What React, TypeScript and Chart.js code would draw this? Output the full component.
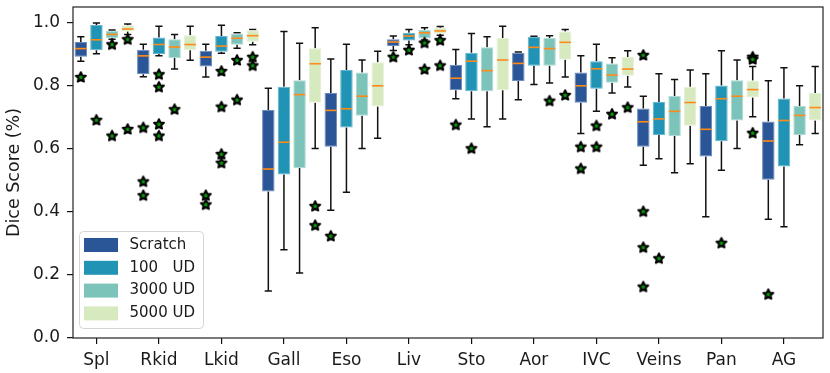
import React, { useEffect, useRef } from 'react';
import { Chart, registerables } from 'chart.js';

Chart.register(...registerables);

const groups = ['Spl', 'Rkid', 'Lkid', 'Gall', 'Eso', 'Liv', 'Sto', 'Aor', 'IVC', 'Veins', 'Pan', 'AG'];
const seriesNames = ['Scratch', '100   UD', '3000 UD', '5000 UD'];
const seriesColors = ['#2a5597', '#2193b4', '#7cc4ba', '#d7e9be'];
const seriesEdges = ['#6d8cbf', '#62b6cf', '#aedbd3', '#e6f1d8'];
const yTicks = [0, 0.2, 0.4, 0.6, 0.8, 1.0];

// [lower whisker, q1, median, q3, upper whisker] per organ
const scratchStats = [
  [0.878, 0.892, 0.918, 0.939, 0.956],
  [0.829, 0.837, 0.895, 0.914, 0.932],
  [0.828, 0.861, 0.891, 0.911, 0.932],
  [0.149, 0.465, 0.536, 0.723, 0.792],
  [0.405, 0.607, 0.722, 0.777, 0.885],
  [0.912, 0.926, 0.939, 0.948, 0.958],
  [0.759, 0.786, 0.824, 0.866, 0.915],
  [0.756, 0.815, 0.871, 0.905, 0.907],
  [0.649, 0.746, 0.800, 0.842, 0.895],
  [0.548, 0.607, 0.686, 0.728, 0.767],
  [0.385, 0.576, 0.662, 0.736, 0.838],
  [0.377, 0.502, 0.625, 0.687, 0.816],
];
const ud100Stats = [
  [0.902, 0.913, 0.946, 0.993, 0.999],
  [0.895, 0.901, 0.931, 0.953, 0.989],
  [0.903, 0.908, 0.926, 0.958, 0.992],
  [0.280, 0.519, 0.621, 0.797, 0.972],
  [0.462, 0.668, 0.727, 0.850, 0.932],
  [0.930, 0.944, 0.958, 0.968, 0.979],
  [0.695, 0.783, 0.878, 0.905, 0.966],
  [0.804, 0.864, 0.922, 0.956, 0.957],
  [0.719, 0.791, 0.854, 0.878, 0.932],
  [0.569, 0.644, 0.695, 0.749, 0.838],
  [0.532, 0.624, 0.759, 0.801, 0.911],
  [0.353, 0.544, 0.690, 0.760, 0.857],
];
const ud3000Stats = [
  [0.948, 0.952, 0.963, 0.975, 0.977],
  [0.853, 0.888, 0.923, 0.948, 0.963],
  [0.919, 0.930, 0.951, 0.966, 0.968],
  [0.206, 0.539, 0.772, 0.818, 0.935],
  [0.601, 0.705, 0.767, 0.842, 0.882],
  [0.945, 0.950, 0.968, 0.977, 0.984],
  [0.670, 0.783, 0.848, 0.922, 0.956],
  [0.809, 0.864, 0.918, 0.952, 0.959],
  [0.777, 0.810, 0.834, 0.871, 0.889],
  [0.524, 0.641, 0.719, 0.768, 0.820],
  [0.601, 0.690, 0.767, 0.818, 0.882],
  [0.613, 0.644, 0.706, 0.736, 0.800],
];
const ud5000Stats = [
  [0.963, 0.972, 0.980, 0.992, 0.996],
  [0.881, 0.913, 0.931, 0.960, 0.989],
  [0.930, 0.940, 0.959, 0.976, 0.979],
  [0.601, 0.746, 0.870, 0.919, 0.984],
  [0.634, 0.734, 0.800, 0.875, 0.910],
  [0.960, 0.965, 0.974, 0.984, 0.988],
  [0.695, 0.786, 0.882, 0.952, 0.989],
  [0.828, 0.883, 0.938, 0.972, 0.979],
  [0.796, 0.832, 0.853, 0.891, 0.911],
  [0.553, 0.673, 0.747, 0.797, 0.850],
  [0.702, 0.763, 0.788, 0.817, 0.861],
  [0.649, 0.690, 0.731, 0.777, 0.861],
];

const scratchOutliers = [[0.828], [0.668, 0.497, 0.453], [0.453, 0.424], [], [0.324], [0.892], [0.677], [], [0.607, 0.538], [0.898, 0.402, 0.288, 0.163], [], [0.139]];
const ud100Outliers = [[0.692], [0.837, 0.797, 0.679, 0.642], [0.847, 0.734, 0.584, 0.556], [], [], [0.914], [0.602], [], [0.674, 0.607], [0.253], [0.302], []];
const ud3000Outliers = [[0.932, 0.642], [0.726], [0.882, 0.756], [], [], [0.937, 0.853], [], [0.753], [0.711], [], [], []];
const ud5000Outliers = [[0.948, 0.663], [], [0.892, 0.865], [0.419, 0.358], [], [0.945, 0.865], [], [0.771], [0.732], [], [0.892, 0.885, 0.651], []];

const allStats = [scratchStats, ud100Stats, ud3000Stats, ud5000Stats];
const allOutliers = [scratchOutliers, ud100Outliers, ud3000Outliers, ud5000Outliers];

const FONT = 'DejaVu Sans';

function makeStar(): HTMLCanvasElement {
  const c = document.createElement('canvas');
  c.width = 16;
  c.height = 16;
  const ctx = c.getContext('2d')!;
  ctx.beginPath();
  for (let k = 0; k < 10; k++) {
    const r = k % 2 === 0 ? 5.2 : 2.4;
    const a = -Math.PI / 2 + (k * Math.PI) / 5;
    ctx.lineTo(8 + r * Math.cos(a), 8.4 + r * Math.sin(a));
  }
  ctx.closePath();
  ctx.fillStyle = '#0a9a0a';
  ctx.fill();
  ctx.lineWidth = 2;
  ctx.lineJoin = 'round';
  ctx.strokeStyle = '#000';
  ctx.stroke();
  return c;
}

export default function App() {
  const ref = useRef<HTMLCanvasElement>(null);

  useEffect(() => {
    if (!ref.current) return;
    const labels = groups.flatMap((g) => seriesNames.map((s) => `${g} ${s}`));
    const star = makeStar();

    const barSets = seriesNames.map((name, s) => ({
      type: 'bar' as const,
      label: name,
      data: labels.map((_, i) => (i % 4 === s ? [allStats[s][Math.floor(i / 4)][1], allStats[s][Math.floor(i / 4)][3]] : null)),
      backgroundColor: seriesColors[s],
      borderColor: seriesEdges[s],
      borderWidth: 1,
      borderSkipped: false,
      grouped: false,
      barPercentage: 0.8,
      categoryPercentage: 1.0,
      order: 2,
    }));

    const outlierSets = seriesNames.map((name, s) => ({
      type: 'scatter' as const,
      label: name + ' outliers',
      data: allOutliers[s].flatMap((arr, g) => arr.map((v) => ({ x: labels[g * 4 + s], y: v }))),
      pointStyle: star,
      pointRadius: 6,
      showLine: false,
      order: 1,
    }));

    const boxPlugin = {
      id: 'boxParts',
      beforeDatasetsDraw(chart: any) {
        const ctx = chart.ctx;
        const xs = chart.scales.x;
        const ys = chart.scales.y;
        ctx.save();
        ctx.strokeStyle = '#111';
        ctx.lineWidth = 1.5;
        for (let s = 0; s < 4; s++) {
          allStats[s].forEach((st, g) => {
            const x = xs.getPixelForValue(g * 4 + s);
            const [lo, q1, , q3, hi] = st;
            ctx.beginPath();
            ctx.moveTo(x, ys.getPixelForValue(lo));
            ctx.lineTo(x, ys.getPixelForValue(q1));
            ctx.moveTo(x, ys.getPixelForValue(q3));
            ctx.lineTo(x, ys.getPixelForValue(hi));
            ctx.moveTo(x - 3.6, ys.getPixelForValue(lo));
            ctx.lineTo(x + 3.6, ys.getPixelForValue(lo));
            ctx.moveTo(x - 3.6, ys.getPixelForValue(hi));
            ctx.lineTo(x + 3.6, ys.getPixelForValue(hi));
            ctx.stroke();
          });
        }
        ctx.restore();
      },
      afterDatasetsDraw(chart: any) {
        const ctx = chart.ctx;
        const xs = chart.scales.x;
        const ys = chart.scales.y;
        ctx.save();
        ctx.strokeStyle = '#ff8c1a';
        ctx.lineWidth = 1.6;
        for (let s = 0; s < 4; s++) {
          const meta = chart.getDatasetMeta(s);
          allStats[s].forEach((st, g) => {
            const el = meta.data[g * 4 + s];
            const x = xs.getPixelForValue(g * 4 + s);
            const w = el && el.width ? el.width : 12.5;
            const y = ys.getPixelForValue(st[2]);
            ctx.beginPath();
            ctx.moveTo(x - w / 2 + 0.5, y);
            ctx.lineTo(x + w / 2 - 0.5, y);
            ctx.stroke();
          });
        }
        ctx.restore();
      },
      afterDraw(chart: any) {
        const ctx = chart.ctx;
        const a = chart.chartArea;
        ctx.save();
        ctx.strokeStyle = '#222';
        ctx.lineWidth = 1.2;
        ctx.strokeRect(a.left, a.top, a.right - a.left, a.bottom - a.top);

        // legend
        const lx = 79.5, ly = 231.5, lw = 124, lh = 97, r = 4;
        ctx.beginPath();
        ctx.moveTo(lx + r, ly);
        ctx.lineTo(lx + lw - r, ly);
        ctx.quadraticCurveTo(lx + lw, ly, lx + lw, ly + r);
        ctx.lineTo(lx + lw, ly + lh - r);
        ctx.quadraticCurveTo(lx + lw, ly + lh, lx + lw - r, ly + lh);
        ctx.lineTo(lx + r, ly + lh);
        ctx.quadraticCurveTo(lx, ly + lh, lx, ly + lh - r);
        ctx.lineTo(lx, ly + r);
        ctx.quadraticCurveTo(lx, ly, lx + r, ly);
        ctx.closePath();
        ctx.fillStyle = 'rgba(255,255,255,0.8)';
        ctx.fill();
        ctx.strokeStyle = '#d5d5d5';
        ctx.lineWidth = 1;
        ctx.stroke();
        ctx.font = `15px "${FONT}"`;
        ctx.textBaseline = 'middle';
        ctx.textAlign = 'left';
        seriesNames.forEach((name, s) => {
          const cy = 245 + s * 22.8;
          ctx.fillStyle = seriesColors[s];
          ctx.fillRect(84, cy - 7, 34, 14);
          ctx.fillStyle = '#1a1a1a';
          ctx.fillText(name, 129.5, cy);
        });
        ctx.restore();
      },
    };

    const chart = new Chart(ref.current, {
      type: 'bar',
      data: { labels, datasets: [...barSets, ...outlierSets] as any },
      options: {
        responsive: false,
        animation: false,
        devicePixelRatio: 1,
        layout: { padding: { left: 0, right: 6, top: 5, bottom: 0 } },
        plugins: { legend: { display: false }, tooltip: { enabled: false } },
        scales: {
          x: {
            type: 'category',
            offset: true,
            grid: { display: true, drawOnChartArea: false, drawTicks: true, tickLength: 6, offset: false, color: '#111', lineWidth: 1.2 },
            border: { display: false },
            ticks: {
              autoSkip: false,
              maxRotation: 0,
              padding: 6,
              color: '#1a1a1a',
              font: { family: FONT, size: 17 },
              callback: (v: any) => (Number(v) % 4 === 1 ? groups[(Number(v) - 1) / 4] : ''),
            },
            afterBuildTicks: (scale: any) => {
              scale.ticks = scale.ticks.filter((t: any) => t.value % 4 === 1);
            },
            afterFit: (scale: any) => {
              scale.height = 35;
              scale.paddingLeft = 0;
              scale.paddingRight = 0;
            },
          },
          y: {
            type: 'linear',
            min: 0,
            max: 1.05,
            grid: { display: true, drawOnChartArea: false, drawTicks: true, tickLength: 6, color: '#111', lineWidth: 1.2 },
            border: { display: false },
            ticks: {
              padding: 7,
              color: '#1a1a1a',
              font: { family: FONT, size: 17 },
              callback: (v: any) => Number(v).toFixed(1),
            },
            afterBuildTicks: (scale: any) => {
              scale.ticks = yTicks.map((v) => ({ value: v }));
            },
            title: {
              display: true,
              text: 'Dice Score (%)',
              color: '#1a1a1a',
              font: { family: FONT, size: 17.5 },
              padding: { top: 3.5, bottom: 0 },
            },
            afterFit: (scale: any) => {
              scale.width = 73;
              scale.paddingTop = 0;
              scale.paddingBottom = 0;
            },
          },
        },
      },
      plugins: [boxPlugin],
    });
    return () => chart.destroy();
  }, []);

  return (
    <div style={{ position: 'absolute', left: 0, top: 0, width: 830, height: 373, background: '#fff' }}>
      <canvas ref={ref} width={830} height={373} style={{ display: 'block' }} />
    </div>
  );
}
